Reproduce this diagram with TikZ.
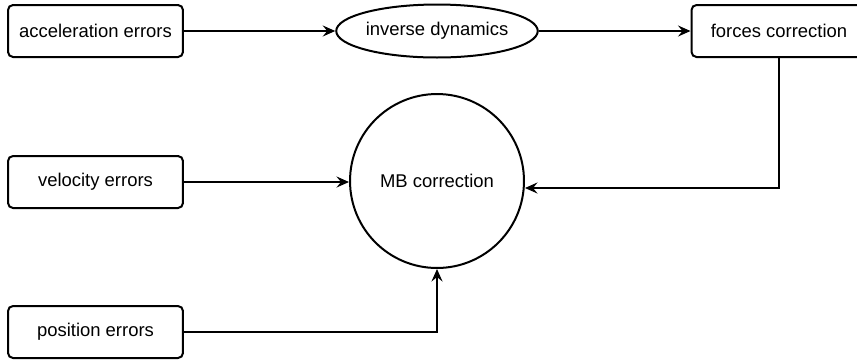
\documentclass[tikz,border=0pt]{standalone}
\usepackage{fontspec}
\setmainfont{Liberation Sans}
\usetikzlibrary{arrows.meta,shapes.geometric}

\tikzset{
    err node/.style={rectangle,draw,rounded corners=1mm,minimum width=3.5cm,minimum height=1.04cm,inner sep=0},
    op node/.style={ellipse,draw,minimum width=3.46cm,minimum height=1.06cm,inner sep=0},
    mb node/.style={circle,draw,minimum size=3.48cm,inner sep=0},
    flow/.style={-{Stealth[length=2.5mm,width=2.2mm,inset=0.9mm]}}
    }

\begin{document}
\begin{tikzpicture}[x=0.02cm,y=-0.02cm,line width=0.4mm,font=\fontsize{10.5}{12.6}\selectfont]
                \useasboundingbox (0,0) rectangle (857,363);
                \node(acc)[err node] at (95.5,31){acceleration errors};
                \node(inv)[op node] at (437,31){inverse dynamics};
                \node(frc)[err node] at (779,31){forces correction};
                \node(mb)[mb node] at (437,181){MB correction};
                \node(vel)[err node] at (95.5,182){velocity errors};
                \node(pos)[err node] at (95.5,332){position errors};
                \coordinate(turn) at (779,188);

                \draw[flow] (acc) -- (inv);
                \draw[flow] (inv) -- (frc);
                \draw[flow] (vel.east) -- (vel.east -| mb.west);
                \draw[flow] (frc.south) -- (turn) -- (turn -| mb.east);
                \draw[flow] (pos.east) -| (mb.south);
            \end{tikzpicture}
\end{document}
